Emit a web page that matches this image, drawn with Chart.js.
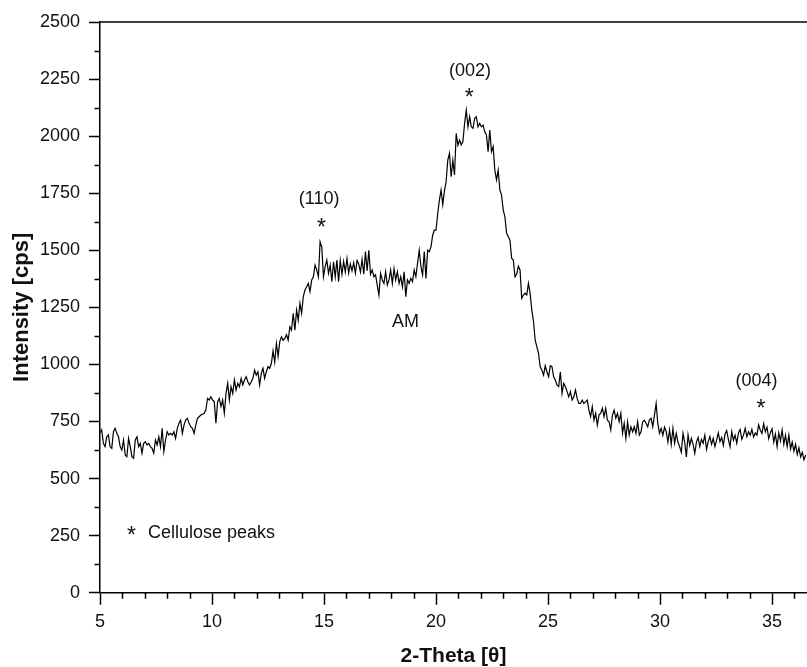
<!DOCTYPE html>
<html lang="en">
<head>
<meta charset="UTF-8">
<title>XRD pattern</title>
<script src="https://cdn.jsdelivr.net/npm/chart.js"></script>
<style>
  html, body { margin: 0; padding: 0; background: #fff; }
  #wrap { width: 807px; height: 667px; }
</style>
</head>
<body>
<div id="wrap"><canvas id="xrdChart"></canvas></div>
<script>
// scan: 2-theta from 5 deg, step 0.075 deg
const startAngle = 5.0;
const stepAngle = 0.075;

// intensity [cps]
const intensity = [
  700, 713, 654, 640, 683, 691, 640, 632, 705, 720,
  698, 683, 640, 625, 669, 603, 596, 676, 640, 596,
  589, 669, 683, 640, 654, 611, 654, 661, 647, 654,
  640, 632, 611, 669, 647, 683, 640, 720, 618, 669,
  705, 691, 698, 691, 705, 676, 720, 742, 756, 698,
  734, 756, 764, 742, 727, 720, 698, 734, 764, 771,
  778, 782, 786, 800, 851, 844, 858, 844, 837, 742,
  837, 851, 815, 844, 786, 873, 917, 844, 902, 873,
  932, 888, 917, 902, 939, 910, 932, 946, 924, 910,
  924, 939, 975, 953, 968, 910, 961, 983, 939, 968,
  990, 983, 1005,
  1060, 1010, 1092, 1035, 1100, 1121, 1105, 1114, 1130, 1106,
  1165, 1150, 1224, 1150, 1238, 1194, 1268, 1224, 1297, 1326,
  1340, 1355, 1319, 1370, 1384, 1435, 1414, 1384, 1537, 1515,
  1384, 1428, 1457, 1399, 1435, 1362, 1450, 1384, 1457, 1362,
  1455, 1395, 1450, 1405, 1464, 1400, 1440, 1410, 1445, 1400,
  1455, 1440, 1405, 1460, 1395, 1494, 1410, 1500, 1395, 1414,
  1384, 1392, 1348, 1304, 1399, 1370, 1355, 1406, 1348, 1370,
  1414, 1355, 1420, 1370, 1406, 1355, 1384, 1340, 1406, 1297,
  1370, 1355, 1377, 1362, 1414, 1384, 1443, 1500, 1428, 1392,
  1494, 1377, 1500, 1494, 1515, 1566, 1588, 1588, 1661, 1720,
  1764,
  1700, 1760, 1800, 1895, 1925, 1822, 1895, 1830, 2012, 1961,
  1983, 1961, 1976, 2056, 2114, 2041, 2085, 2041, 2034, 2078,
  2085, 2041, 2056, 2041, 2048, 2019, 2005, 1932, 2027, 1932,
  1954, 1851, 1808, 1851, 1764, 1742, 1676, 1647, 1574, 1559,
  1544, 1465, 1457, 1384,
  1395, 1430,
  1414, 1290, 1304, 1312, 1304, 1355, 1312, 1238, 1190, 1107,
  1078, 1049, 990, 975, 953, 994, 968, 946, 994, 990,
  946, 932, 910, 903, 968, 873, 917, 903, 881, 858,
  881, 844, 858, 888, 851, 829, 829, 844, 829, 836,
  844, 800, 771, 815, 756, 786, 734, 778, 786, 808,
  771, 808, 756, 749, 713, 778, 800, 764, 786, 749,
  786, 698, 742, 676, 749, 691, 727, 705, 727, 698,
  749, 691, 705, 749, 756, 742, 727,
  756, 764, 727, 778, 829, 742, 698, 720, 690, 725,
  705, 660, 713, 650, 720, 655, 698, 660, 640, 615,
  698, 660, 595, 691, 645, 676, 650, 610, 660, 680,
  640, 672, 655, 690, 628, 662, 684, 650, 676, 640,
  668, 700, 662, 680, 645, 695, 710, 672, 640, 705,
  668, 690, 655, 700, 715, 672, 690, 720, 683, 705,
  690, 715, 682, 700, 690, 735, 712, 698, 740, 705,
  725, 675, 700, 718, 660, 695, 640, 700, 665, 713,
  650, 690, 640, 691, 630, 660, 620, 650, 605, 635,
  595, 615, 582, 603
];

const xTicks = [5, 10, 15, 20, 25, 30, 35];
const yTicks = [0, 250, 500, 750, 1000, 1250, 1500, 1750, 2000, 2250, 2500];
const xMinorTicks = [6, 7, 8, 9, 11, 12, 13, 14, 16, 17, 18, 19, 21, 22, 23, 24, 26, 27, 28, 29, 31, 32, 33, 34, 36];
const yMinorTicks = [125, 375, 625, 875, 1125, 1375, 1625, 1875, 2125, 2375];

const points = intensity.map((v, i) => ({ x: startAngle + i * stepAngle, y: v }));

const FONT = "'Liberation Sans', Arial, Helvetica, sans-serif";

// minor ticks, top frame line and the peak notes
const decorations = {
    id: 'decorations',
    afterDraw(chart) {
        const { ctx, chartArea, scales } = chart;
        const xs = scales.x, ys = scales.y;
        ctx.save();
        ctx.strokeStyle = '#000';
        ctx.lineWidth = 1.5;
        ctx.beginPath();
        ctx.moveTo(chartArea.left, chartArea.top);
        ctx.lineTo(chartArea.right, chartArea.top);
        yMinorTicks.forEach(v => {
            const py = Math.round(ys.getPixelForValue(v)) + 0.5;
            ctx.moveTo(chartArea.left - 5.5, py);
            ctx.lineTo(chartArea.left, py);
        });
        xMinorTicks.forEach(v => {
            const px = Math.round(xs.getPixelForValue(v)) + 0.5;
            ctx.moveTo(px, chartArea.bottom);
            ctx.lineTo(px, chartArea.bottom + 6);
        });
        ctx.stroke();

        const notes = [
            { text: '(110)', x: 14.78, y: 1703, size: 18, align: 'center' },
            { text: '*', x: 14.89, y: 1567, size: 23, align: 'center' },
            { text: 'AM', x: 18.64, y: 1164, size: 18, align: 'center' },
            { text: '(002)', x: 21.52, y: 2263, size: 18, align: 'center' },
            { text: '*', x: 21.48, y: 2138, size: 23, align: 'center' },
            { text: '(004)', x: 34.31, y: 905, size: 18, align: 'center' },
            { text: '*', x: 34.51, y: 774, size: 23, align: 'center' },
            { text: '*', x: 6.41, y: 217, size: 23, align: 'center' },
            { text: 'Cellulose peaks', x: 7.14, y: 240, size: 18, align: 'left' }
        ];
        ctx.fillStyle = '#111';
        ctx.textBaseline = 'alphabetic';
        notes.forEach(n => {
            ctx.font = n.size + 'px ' + FONT;
            ctx.textAlign = n.align;
            ctx.fillText(n.text, xs.getPixelForValue(n.x), ys.getPixelForValue(n.y));
        });
        ctx.restore();
    }
};

new Chart(document.getElementById('xrdChart'), {
    type: 'line',
    data: {
        datasets: [{
            data: points,
            borderColor: '#000',
            borderWidth: 1.2,
            pointRadius: 0,
            tension: 0,
            fill: false
        }]
    },
    options: {
        responsive: true,
        maintainAspectRatio: false,
        animation: false,
        layout: { padding: { top: 22, right: 0, bottom: 0, left: 0 } },
        plugins: {
            legend: { display: false },
            tooltip: { enabled: false }
        },
        scales: {
            x: {
                type: 'linear',
                min: 5,
                max: 36.56,
                afterBuildTicks: scale => { scale.ticks = xTicks.map(v => ({ value: v })); },
                afterFit: scale => { scale.height = 74.3; },
                ticks: {
                    color: '#111',
                    font: { family: FONT, size: 18 },
                    padding: 7,
                    maxRotation: 0,
                    autoSkip: false,
                    callback: value => String(value)
                },
                grid: {
                    drawOnChartArea: false,
                    drawTicks: true,
                    tickLength: 12,
                    tickWidth: 1.5,
                    tickColor: '#000'
                },
                border: { display: true, color: '#000', width: 1.5 },
                title: {
                    display: true,
                    text: '2-Theta [θ]',
                    color: '#111',
                    font: { family: FONT, size: 21, weight: 'bold', lineHeight: 1 },
                    padding: { top: 0, bottom: 0 }
                }
            },
            y: {
                type: 'linear',
                min: 0,
                max: 2500,
                afterBuildTicks: scale => { scale.ticks = yTicks.map(v => ({ value: v })); },
                afterFit: scale => { scale.width = 100; },
                ticks: {
                    color: '#111',
                    font: { family: FONT, size: 18 },
                    padding: 9,
                    callback: value => String(value)
                },
                grid: {
                    drawOnChartArea: false,
                    drawTicks: true,
                    tickLength: 11,
                    tickWidth: 1.5,
                    tickColor: '#000'
                },
                border: { display: true, color: '#000', width: 1.5 },
                title: {
                    display: true,
                    text: 'Intensity [cps]',
                    color: '#111',
                    font: { family: FONT, size: 22, weight: 'bold', lineHeight: 1 },
                    padding: { top: 11, bottom: 0 }
                }
            }
        }
    },
    plugins: [decorations]
});
</script>
</body>
</html>
